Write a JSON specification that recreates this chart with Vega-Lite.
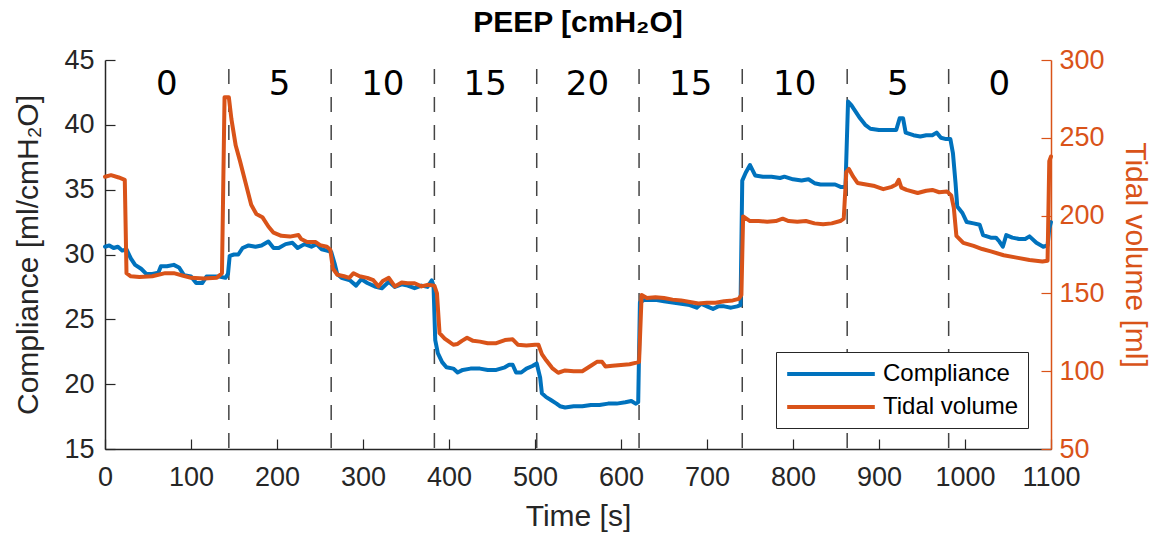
{
  "$schema": "https://vega.github.io/schema/vega-lite/v6.json",
  "width": 946,
  "height": 389,
  "autosize": {"type": "none"},
  "padding": {"left": 105, "top": 60, "right": 107, "bottom": 85},
  "background": "white",
  "config": {
    "view": {"stroke": null},
    "font": "Liberation Sans",
    "axis": {
      "grid": false,
      "labelFontSize": 27,
      "titleFontSize": 30,
      "titleFontWeight": "normal",
      "labelFont": "Liberation Sans",
      "titleFont": "Liberation Sans",
      "tickSize": -10,
      "domainWidth": 1.5,
      "tickWidth": 1.2,
      "labelOverlap": false,
      "labelFlush": false,
      "format": "d"
    }
  },
  "title": {
    "text": "PEEP [cmH₂O]",
    "fontSize": 30,
    "fontWeight": "bold",
    "font": "Liberation Sans",
    "color": "black",
    "anchor": "middle",
    "offset": 8
  },
  "datasets": {
    "peep": [
      {"t": 72, "peep": "0"}, {"t": 203, "peep": "5"}, {"t": 323, "peep": "10"},
      {"t": 442, "peep": "15"}, {"t": 561, "peep": "20"}, {"t": 681, "peep": "15"},
      {"t": 802, "peep": "10"}, {"t": 922, "peep": "5"}, {"t": 1040, "peep": "0"}
    ],
    "bounds": [
      {"t": 144}, {"t": 263}, {"t": 383}, {"t": 502}, {"t": 621}, {"t": 741}, {"t": 863}, {"t": 981}
    ],
    "comp": [
      {"t": 0, "v": 30.6}, {"t": 5, "v": 30.7}, {"t": 10, "v": 30.5}, {"t": 15, "v": 30.6},
      {"t": 20, "v": 30.3}, {"t": 25, "v": 30.4}, {"t": 30, "v": 29.7}, {"t": 35, "v": 29.2},
      {"t": 42, "v": 28.9}, {"t": 48, "v": 28.5}, {"t": 55, "v": 28.5}, {"t": 62, "v": 28.6},
      {"t": 65, "v": 29.1}, {"t": 72, "v": 29.1}, {"t": 80, "v": 29.2}, {"t": 86, "v": 29.0},
      {"t": 92, "v": 28.4}, {"t": 100, "v": 28.3}, {"t": 106, "v": 27.8}, {"t": 113, "v": 27.8},
      {"t": 118, "v": 28.3}, {"t": 125, "v": 28.3}, {"t": 133, "v": 28.3}, {"t": 140, "v": 28.2},
      {"t": 143, "v": 28.5}, {"t": 145, "v": 29.9}, {"t": 150, "v": 30.0}, {"t": 155, "v": 30.0},
      {"t": 160, "v": 30.5}, {"t": 167, "v": 30.7}, {"t": 175, "v": 30.6}, {"t": 182, "v": 30.7},
      {"t": 190, "v": 31.0}, {"t": 196, "v": 30.5}, {"t": 202, "v": 30.5}, {"t": 210, "v": 30.8},
      {"t": 218, "v": 30.9}, {"t": 224, "v": 30.5}, {"t": 232, "v": 30.8}, {"t": 240, "v": 30.6},
      {"t": 246, "v": 30.8}, {"t": 252, "v": 30.4}, {"t": 258, "v": 30.3}, {"t": 263, "v": 30.2},
      {"t": 267, "v": 29.3}, {"t": 270, "v": 28.5}, {"t": 275, "v": 28.2}, {"t": 285, "v": 28.0},
      {"t": 292, "v": 27.6}, {"t": 298, "v": 28.1}, {"t": 305, "v": 27.8}, {"t": 315, "v": 27.5},
      {"t": 322, "v": 27.4}, {"t": 330, "v": 27.9}, {"t": 337, "v": 27.5}, {"t": 345, "v": 27.7},
      {"t": 352, "v": 27.6}, {"t": 360, "v": 27.4}, {"t": 368, "v": 27.6}, {"t": 375, "v": 27.5},
      {"t": 380, "v": 28.0}, {"t": 382, "v": 27.6}, {"t": 384, "v": 23.4}, {"t": 387, "v": 22.4},
      {"t": 392, "v": 21.7}, {"t": 397, "v": 21.3}, {"t": 405, "v": 21.2}, {"t": 410, "v": 20.9},
      {"t": 416, "v": 21.1}, {"t": 425, "v": 21.2}, {"t": 436, "v": 21.2}, {"t": 445, "v": 21.1},
      {"t": 455, "v": 21.1}, {"t": 465, "v": 21.3}, {"t": 470, "v": 21.5}, {"t": 474, "v": 21.5},
      {"t": 478, "v": 20.9}, {"t": 484, "v": 20.9}, {"t": 490, "v": 21.2}, {"t": 497, "v": 21.4},
      {"t": 502, "v": 21.6}, {"t": 506, "v": 20.5}, {"t": 508, "v": 19.3}, {"t": 513, "v": 19.0},
      {"t": 518, "v": 18.8}, {"t": 525, "v": 18.5}, {"t": 529, "v": 18.3}, {"t": 535, "v": 18.2},
      {"t": 545, "v": 18.3}, {"t": 555, "v": 18.3}, {"t": 565, "v": 18.4}, {"t": 575, "v": 18.4},
      {"t": 585, "v": 18.5}, {"t": 595, "v": 18.5}, {"t": 605, "v": 18.6}, {"t": 612, "v": 18.7},
      {"t": 617, "v": 18.5}, {"t": 620, "v": 18.6}, {"t": 622, "v": 26.3}, {"t": 627, "v": 26.5},
      {"t": 640, "v": 26.5}, {"t": 650, "v": 26.4}, {"t": 660, "v": 26.3}, {"t": 670, "v": 26.2},
      {"t": 680, "v": 26.1}, {"t": 688, "v": 25.9}, {"t": 693, "v": 26.2}, {"t": 700, "v": 26.0},
      {"t": 707, "v": 25.8}, {"t": 713, "v": 26.0}, {"t": 720, "v": 26.0}, {"t": 728, "v": 25.9},
      {"t": 735, "v": 26.0}, {"t": 739, "v": 26.1}, {"t": 741, "v": 35.7}, {"t": 745, "v": 36.3},
      {"t": 750, "v": 36.9}, {"t": 756, "v": 36.1}, {"t": 765, "v": 36.0}, {"t": 775, "v": 36.0},
      {"t": 785, "v": 35.9}, {"t": 790, "v": 36.0}, {"t": 800, "v": 35.8}, {"t": 810, "v": 35.7},
      {"t": 818, "v": 35.8}, {"t": 825, "v": 35.5}, {"t": 832, "v": 35.4}, {"t": 840, "v": 35.4},
      {"t": 849, "v": 35.4}, {"t": 856, "v": 35.2}, {"t": 861, "v": 35.2}, {"t": 864, "v": 41.8},
      {"t": 868, "v": 41.5}, {"t": 873, "v": 41.0}, {"t": 878, "v": 40.5}, {"t": 884, "v": 40.0},
      {"t": 890, "v": 39.7}, {"t": 900, "v": 39.6}, {"t": 910, "v": 39.6}, {"t": 920, "v": 39.6},
      {"t": 924, "v": 40.5}, {"t": 928, "v": 40.5}, {"t": 931, "v": 39.4}, {"t": 940, "v": 39.2},
      {"t": 948, "v": 39.1}, {"t": 955, "v": 39.2}, {"t": 962, "v": 39.2}, {"t": 967, "v": 39.4},
      {"t": 972, "v": 39.0}, {"t": 978, "v": 38.9}, {"t": 983, "v": 38.9}, {"t": 986, "v": 37.8},
      {"t": 989, "v": 35.5}, {"t": 991, "v": 33.7}, {"t": 997, "v": 33.2}, {"t": 1002, "v": 32.5},
      {"t": 1010, "v": 32.4}, {"t": 1017, "v": 32.3}, {"t": 1021, "v": 31.5}, {"t": 1030, "v": 31.3},
      {"t": 1036, "v": 31.3}, {"t": 1040, "v": 31.0}, {"t": 1044, "v": 30.6}, {"t": 1048, "v": 31.5},
      {"t": 1055, "v": 31.3}, {"t": 1063, "v": 31.2}, {"t": 1070, "v": 31.2}, {"t": 1075, "v": 31.4},
      {"t": 1083, "v": 30.9}, {"t": 1091, "v": 30.6}, {"t": 1096, "v": 30.7}, {"t": 1098, "v": 32.0},
      {"t": 1100, "v": 32.5}
    ],
    "tv": [
      {"t": 0, "v": 225}, {"t": 7, "v": 226}, {"t": 16, "v": 224.5}, {"t": 23, "v": 223},
      {"t": 25, "v": 163}, {"t": 30, "v": 161}, {"t": 40, "v": 160.5}, {"t": 55, "v": 161},
      {"t": 70, "v": 163}, {"t": 80, "v": 163}, {"t": 90, "v": 161.5}, {"t": 100, "v": 160},
      {"t": 115, "v": 159.5}, {"t": 130, "v": 160}, {"t": 136, "v": 163}, {"t": 139, "v": 276},
      {"t": 144, "v": 276}, {"t": 147, "v": 262}, {"t": 152, "v": 245}, {"t": 157, "v": 235},
      {"t": 163, "v": 222}, {"t": 170, "v": 207}, {"t": 176, "v": 201}, {"t": 183, "v": 199},
      {"t": 190, "v": 193}, {"t": 196, "v": 189}, {"t": 205, "v": 187}, {"t": 215, "v": 186.5},
      {"t": 225, "v": 187.5}, {"t": 228, "v": 185}, {"t": 235, "v": 183}, {"t": 245, "v": 183},
      {"t": 250, "v": 181}, {"t": 258, "v": 180}, {"t": 262, "v": 178}, {"t": 265, "v": 166},
      {"t": 270, "v": 162}, {"t": 278, "v": 161}, {"t": 284, "v": 160}, {"t": 289, "v": 163},
      {"t": 296, "v": 161}, {"t": 305, "v": 160}, {"t": 312, "v": 158.5}, {"t": 318, "v": 154.5},
      {"t": 323, "v": 158}, {"t": 330, "v": 160}, {"t": 337, "v": 154.5}, {"t": 345, "v": 157},
      {"t": 352, "v": 156.5}, {"t": 360, "v": 156.5}, {"t": 368, "v": 154.5}, {"t": 375, "v": 155.5},
      {"t": 383, "v": 155}, {"t": 386, "v": 150}, {"t": 389, "v": 124.5}, {"t": 395, "v": 121},
      {"t": 400, "v": 119}, {"t": 405, "v": 117}, {"t": 410, "v": 117.5}, {"t": 415, "v": 119.5},
      {"t": 421, "v": 121.5}, {"t": 428, "v": 119.5}, {"t": 436, "v": 119}, {"t": 445, "v": 118},
      {"t": 455, "v": 118}, {"t": 465, "v": 120}, {"t": 474, "v": 120.5}, {"t": 480, "v": 117},
      {"t": 490, "v": 116.5}, {"t": 500, "v": 117}, {"t": 504, "v": 117}, {"t": 508, "v": 111},
      {"t": 513, "v": 107}, {"t": 520, "v": 102}, {"t": 527, "v": 99}, {"t": 535, "v": 100.5},
      {"t": 545, "v": 100}, {"t": 555, "v": 100}, {"t": 565, "v": 103.5}, {"t": 572, "v": 106},
      {"t": 578, "v": 106}, {"t": 582, "v": 103}, {"t": 590, "v": 103.5}, {"t": 600, "v": 104},
      {"t": 610, "v": 104.5}, {"t": 618, "v": 105.5}, {"t": 621, "v": 106}, {"t": 624, "v": 149},
      {"t": 630, "v": 147}, {"t": 640, "v": 147.5}, {"t": 650, "v": 147}, {"t": 660, "v": 146},
      {"t": 670, "v": 145.5}, {"t": 680, "v": 144.5}, {"t": 690, "v": 143.5}, {"t": 700, "v": 144},
      {"t": 710, "v": 144}, {"t": 720, "v": 145}, {"t": 730, "v": 145.5}, {"t": 737, "v": 146.5},
      {"t": 740, "v": 149}, {"t": 742, "v": 199.5}, {"t": 750, "v": 196.5}, {"t": 760, "v": 196.5},
      {"t": 770, "v": 196}, {"t": 780, "v": 196.5}, {"t": 788, "v": 198}, {"t": 795, "v": 196.5},
      {"t": 805, "v": 196}, {"t": 815, "v": 196.5}, {"t": 825, "v": 195}, {"t": 835, "v": 194.5},
      {"t": 845, "v": 195}, {"t": 855, "v": 196.5}, {"t": 859, "v": 198}, {"t": 862, "v": 228},
      {"t": 865, "v": 230}, {"t": 870, "v": 225}, {"t": 875, "v": 221}, {"t": 885, "v": 220},
      {"t": 895, "v": 219}, {"t": 905, "v": 217}, {"t": 915, "v": 218.5}, {"t": 920, "v": 220},
      {"t": 923, "v": 223}, {"t": 926, "v": 218}, {"t": 932, "v": 216.5}, {"t": 945, "v": 214.5},
      {"t": 955, "v": 216}, {"t": 962, "v": 216.5}, {"t": 970, "v": 215}, {"t": 979, "v": 215.5},
      {"t": 984, "v": 213}, {"t": 987, "v": 205}, {"t": 990, "v": 187}, {"t": 998, "v": 182.5},
      {"t": 1010, "v": 180.5}, {"t": 1020, "v": 178.5}, {"t": 1030, "v": 177}, {"t": 1045, "v": 174.5},
      {"t": 1060, "v": 173}, {"t": 1075, "v": 171.5}, {"t": 1090, "v": 170.5}, {"t": 1096, "v": 171},
      {"t": 1098, "v": 235}, {"t": 1100, "v": 238}
    ]
  },
  "layer": [
    {
      "layer": [
        {
          "data": {"name": "bounds"},
          "mark": {"type": "rule", "color": "#444444", "strokeWidth": 1.5, "strokeDash": [15, 13]},
          "encoding": {
            "x": {"field": "t", "type": "quantitative"},
            "y": {"datum": 44.3, "type": "quantitative"},
            "y2": {"datum": 15}
          }
        },
        {
          "data": {"name": "peep"},
          "mark": {"type": "text", "font": "DejaVu Sans", "fontSize": 34, "color": "black", "baseline": "middle", "align": "center"},
          "encoding": {
            "x": {"field": "t", "type": "quantitative"},
            "y": {"datum": 43.1, "type": "quantitative"},
            "text": {"field": "peep"}
          }
        },
        {
          "data": {"name": "comp"},
          "mark": {"type": "line", "strokeWidth": 4, "strokeJoin": "round", "strokeCap": "round"},
          "encoding": {
            "x": {
              "field": "t", "type": "quantitative",
              "scale": {"domain": [0, 1100], "nice": false, "zero": false},
              "axis": {
                "title": "Time [s]",
                "values": [0, 100, 200, 300, 400, 500, 600, 700, 800, 900, 1000, 1100],
                "domainColor": "#262626", "tickColor": "#262626", "labelColor": "#262626", "titleColor": "#262626",
                "labelPadding": 25, "titlePadding": 11
              }
            },
            "y": {
              "field": "v", "type": "quantitative",
              "scale": {"domain": [15, 45], "nice": false, "zero": false},
              "axis": {
                "title": "Compliance [ml/cmH₂O]",
                "values": [15, 20, 25, 30, 35, 40, 45],
                "domainColor": "#262626", "tickColor": "#262626", "labelColor": "#262626", "titleColor": "#262626",
                "labelPadding": 21, "titlePadding": 20
              }
            },
            "color": {
              "datum": "Compliance",
              "type": "nominal",
              "scale": {"domain": ["Compliance", "Tidal volume"], "range": ["#0072BD", "#D95319"]},
              "legend": {
                "title": null,
                "orient": "none",
                "legendX": 671,
                "legendY": 292,
                "symbolType": "M-4,0H4",
                "symbolSize": 480,
                "symbolOffset": 33,
                "symbolStrokeWidth": 4,
                "labelFontSize": 24,
                "labelFont": "Liberation Sans",
                "labelColor": "black",
                "strokeColor": "#262626",
                "fillColor": "white",
                "padding": 9,
                "labelOffset": 39,
                "rowPadding": 8
              }
            }
          }
        }
      ]
    },
    {
      "data": {"name": "tv"},
      "mark": {"type": "line", "strokeWidth": 4, "strokeJoin": "round", "strokeCap": "round"},
      "encoding": {
        "x": {"field": "t", "type": "quantitative"},
        "y": {
          "field": "v", "type": "quantitative",
          "scale": {"domain": [50, 300], "nice": false, "zero": false},
          "axis": {
            "orient": "right",
            "title": "Tidal volume [ml]",
            "values": [50, 100, 150, 200, 250, 300],
            "domainColor": "#D95319", "tickColor": "#D95319", "labelColor": "#D95319", "titleColor": "#D95319",
            "labelPadding": 18, "titlePadding": 15
          }
        },
        "color": {"datum": "Tidal volume", "type": "nominal"}
      }
    }
  ],
  "resolve": {"scale": {"y": "independent"}}
}
